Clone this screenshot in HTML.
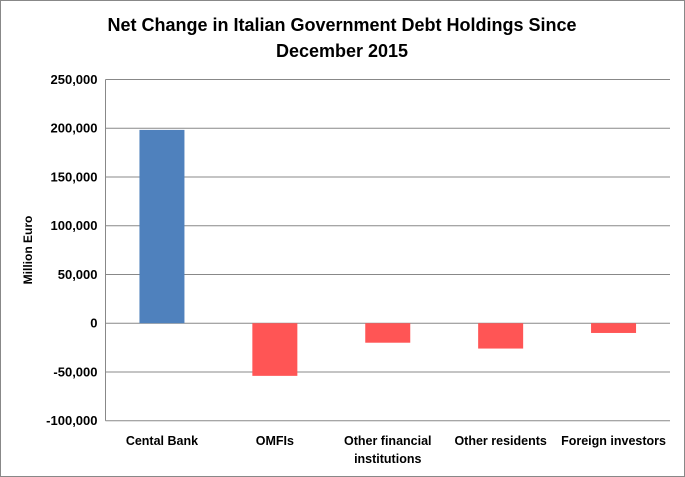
<!DOCTYPE html>
<html><head><meta charset="utf-8"><style>
html,body{margin:0;padding:0;background:#fff}
svg{display:block;font-family:"Liberation Sans",sans-serif}
</style></head><body>
<svg width="685" height="477">
<rect x="0.5" y="0.5" width="684" height="476" fill="#fff" stroke="#888"/>
<text x="342" y="31" text-anchor="middle" font-size="18" font-weight="bold">Net Change in Italian Government Debt Holdings Since</text>
<text x="342" y="57" text-anchor="middle" font-size="18" font-weight="bold">December 2015</text>
<text transform="translate(32,250) rotate(-90)" text-anchor="middle" font-size="12" font-weight="bold">Million Euro</text>
<g id="grid"></g><g id="bars"></g><g id="labels"></g>
</svg>
<script>
const categories=["Cental Bank","OMFIs","Other financial|institutions","Other residents","Foreign investors"];
const values=[198300,-54000,-20000,-26000,-10000];
const ticks=[250000,200000,150000,100000,50000,0,-50000,-100000];
const tickLabels=["250,000","200,000","150,000","100,000","50,000","0","-50,000","-100,000"];
const NS="http://www.w3.org/2000/svg";
const L=105.5,R=670,T=79.5,B=420.7,ymax=250000,ymin=-100000;
const y=v=>T+(ymax-v)/(ymax-ymin)*(B-T);
const bw=(R-L)/categories.length;
const xc=i=>L+bw*(i+0.5);
function mk(tag,attrs,parent){const e=document.createElementNS(NS,tag);for(const k in attrs)e.setAttribute(k,attrs[k]);parent.appendChild(e);return e;}
const grid=document.getElementById('grid'),bars=document.getElementById('bars'),labels=document.getElementById('labels');
ticks.forEach((t,i)=>{
 const ln=mk('line',{x1:L,x2:R,y1:y(t),y2:y(t),stroke:'#888','stroke-width':1},grid);
 
 
 const tx=mk('text',{x:L-8,y:y(t)+4.5,'text-anchor':'end','font-size':13,'font-weight':'bold'},labels);
 tx.textContent=tickLabels[i];
 
 
});
const ax=mk('line',{x1:L,x2:L,y1:T,y2:B,stroke:'#888'},grid);


values.forEach((v,i)=>{
 const w=45,top=Math.min(y(v),y(0)),h=Math.abs(y(v)-y(0));
 const r=mk('rect',{x:xc(i)-w/2,y:top,width:w,height:h,fill:v>=0?'#4f81bd':'#ff5555'},bars);
 
 
 const parts=categories[i].split('|');
 parts.forEach((p,j)=>{
  const tx=mk('text',{x:xc(i),y:445+j*18,'text-anchor':'middle','font-size':12.5,'font-weight':'bold'},labels);
  tx.textContent=p;
  
  
 });
});
</script>
</body></html>
